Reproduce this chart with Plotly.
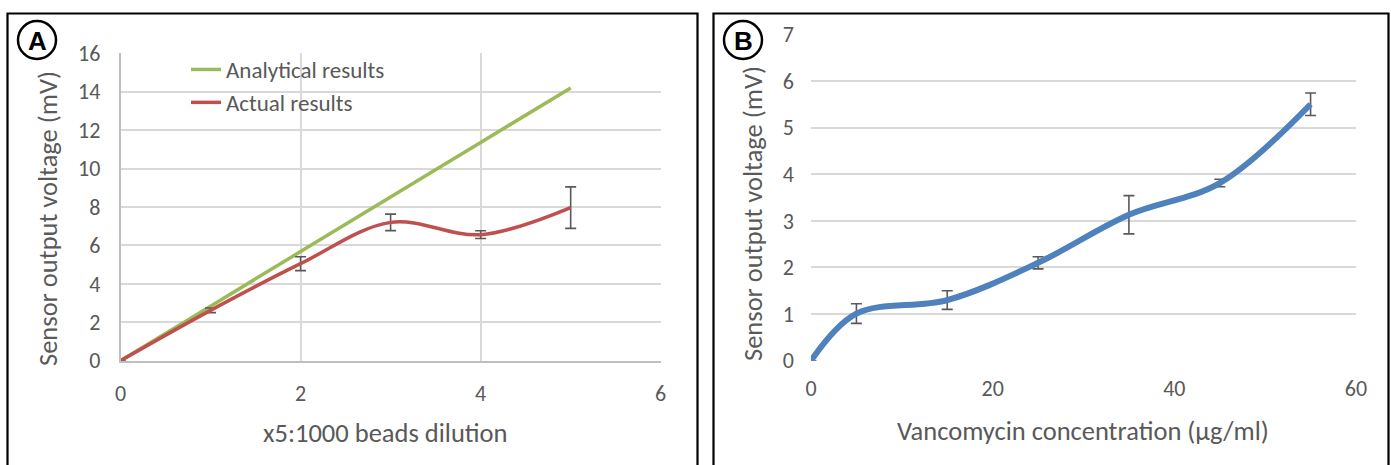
import plotly.graph_objects as go

W, H = 1391, 465

# ---- Panel A data ----
dil_x = [0, 1, 2, 3, 4, 5]
analytical_y = [0, 2.84, 5.68, 8.52, 11.36, 14.2]
actual_y = [0, 2.62, 5.05, 7.2, 6.56, 7.97]
actual_err = [0, 0.12, 0.36, 0.43, 0.2, 1.08]
a_xticks = [0, 2, 4, 6]
a_yticks = [0, 2, 4, 6, 8, 10, 12, 14, 16]

# ---- Panel B data ----
conc_x = [0, 5, 15, 25, 35, 45, 55]
vanc_y = [0, 1.01, 1.3, 2.1, 3.13, 3.81, 5.5]
vanc_err = [0, 0.21, 0.2, 0.13, 0.41, 0.08, 0.24]
b_xticks = [0, 20, 40, 60]
b_yticks = [0, 1, 2, 3, 4, 5, 6, 7]

FONT = "Carlito, 'Liberation Sans Narrow', Lato, sans-serif"
TXT = "#595959"
GRID = "#d9d9d9"


def px(x):
    return x / W


def py(y):
    return 1 - y / H


fig = go.Figure()

fig.add_trace(go.Scatter(
    x=dil_x, y=analytical_y, mode="lines", name="Analytical results",
    line=dict(color="#9BBB59", width=3.5, shape="spline"),
    xaxis="x", yaxis="y"))
fig.add_trace(go.Scatter(
    x=dil_x, y=actual_y, mode="lines", name="Actual results",
    line=dict(color="#C0504D", width=3.5, shape="spline"),
    error_y=dict(type="data", array=actual_err, color="#595959", thickness=1.6, width=5.5),
    xaxis="x", yaxis="y"))
fig.add_trace(go.Scatter(
    x=conc_x, y=vanc_y, mode="lines", name="Vancomycin", showlegend=False,
    line=dict(color="#4F81BD", width=6, shape="spline"),
    error_y=dict(type="data", array=vanc_err, color="#595959", thickness=1.6, width=5.5),
    xaxis="x2", yaxis="y2"))

tickfont = dict(family=FONT, size=22, color=TXT)

fig.update_layout(
    width=W, height=H,
    margin=dict(l=0, r=0, t=0, b=0, pad=0, autoexpand=False),
    paper_bgcolor="white", plot_bgcolor="white",
    font=dict(family=FONT, color=TXT),
    xaxis=dict(domain=[px(120.5), px(660.7)], range=[0, 6], tickvals=a_xticks,
               showgrid=True, gridcolor=GRID, gridwidth=1.5, zeroline=False,
               showline=True, linecolor="#bfbfbf", linewidth=1.5, automargin=False,
               tickfont=tickfont, ticks="", ticklabelstandoff=12, anchor="y"),
    yaxis=dict(domain=[py(360.7), py(53.3)], range=[0, 16], tickvals=a_yticks,
               showgrid=True, gridcolor=GRID, gridwidth=1.5, zeroline=False,
               showline=True, linecolor="#bfbfbf", linewidth=1.5, automargin=False,
               tickfont=tickfont, ticks="", ticklabelstandoff=14, anchor="x"),
    xaxis2=dict(domain=[px(811), px(1356)], range=[0, 60], tickvals=b_xticks,
                showgrid=False, zeroline=False, showline=False, automargin=False,
                tickfont=tickfont, ticks="", ticklabelstandoff=12, anchor="y2"),
    yaxis2=dict(domain=[py(360.7), py(34.3)], range=[0, 7], tickvals=b_yticks,
                showgrid=True, gridcolor=GRID, gridwidth=1.5, zeroline=False,
                showline=False, tickfont=tickfont, ticks="", ticklabelstandoff=16,
                automargin=False, anchor="x2"),
    legend=dict(x=px(186), y=py(48), xanchor="left", yanchor="top",
                bgcolor="rgba(0,0,0,0)", font=dict(family=FONT, size=23, color=TXT),
                tracegroupgap=0, itemwidth=30),
    showlegend=True,
)

# panel frames
fig.add_shape(type="rect", xref="paper", yref="paper",
              x0=px(7.5), x1=px(697.5), y0=py(480), y1=py(13.5),
              line=dict(color="black", width=2.2))
fig.add_shape(type="rect", xref="paper", yref="paper",
              x0=px(713.5), x1=px(1388.5), y0=py(480), y1=py(13.5),
              line=dict(color="black", width=2.2))

# circle labels
for cx, cy, lab in [(37, 40, "A"), (743, 40, "B")]:
    fig.add_shape(type="circle", xref="paper", yref="paper",
                  x0=px(cx - 19), x1=px(cx + 19), y0=py(cy + 19), y1=py(cy - 19),
                  line=dict(color="black", width=2.5))
    fig.add_annotation(x=px(cx), y=py(cy + 1), xref="paper", yref="paper",
                       xanchor="center", yanchor="middle",
                       text=f"<b>{lab}</b>", showarrow=False,
                       font=dict(family="Liberation Sans", size=26, color="black"))

# axis titles
titlefont = dict(family=FONT, size=26.5, color=TXT)
for (x, y, t, ang) in [(48, 219, "Sensor output voltage (mV)", -90),
                       (385, 433, "x5:1000 beads dilution", 0),
                       (753, 214, "Sensor output voltage (mV)", -90),
                       (1083, 431, "Vancomycin concentration (µg/ml)", 0)]:
    fig.add_annotation(x=px(x), y=py(y), xref="paper", yref="paper",
                       xanchor="center", yanchor="middle",
                       text=t, textangle=ang, showarrow=False, font=titlefont)

fig.write_html("out.html", config={"displayModeBar": False},
               post_script="document.body.style.margin='0';")
